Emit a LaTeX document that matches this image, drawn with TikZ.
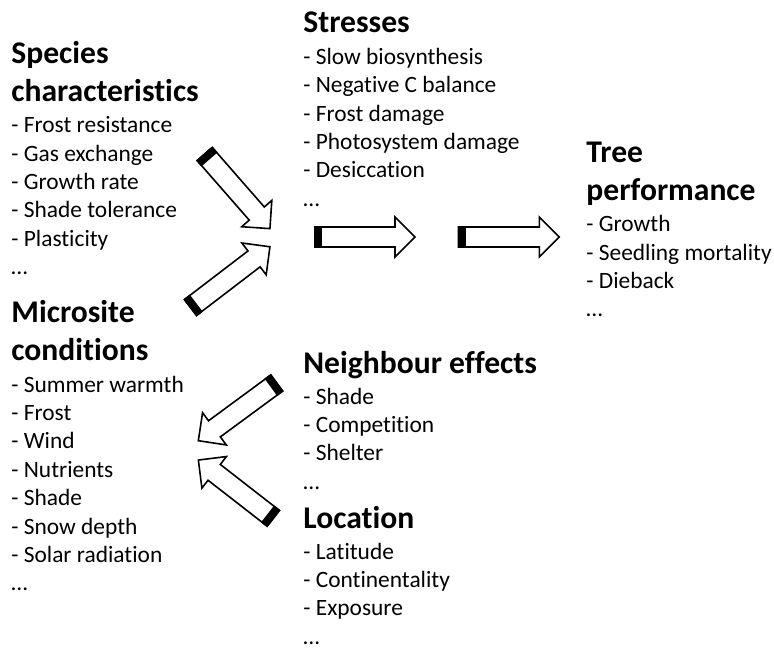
\documentclass[tikz,border=0pt]{standalone}
\usepackage{fontspec}
\setmainfont[Ligatures=NoCommon]{Carlito}
\usetikzlibrary{calc}

\newcommand{\headfont}{\fontsize{15.8}{18.85}\selectfont\bfseries}
\newcommand{\itemfont}{\fontsize{11.7}{14.2}\selectfont}
% lines of a block, baseline on the first line
\newcommand{\lst}[1]{\begin{tabular}[t]{@{}l@{}}#1\end{tabular}}

% block arrow from tail #1 to tip #2, black bar at the tail
\newcommand{\fatarrow}[2]{%
  \draw [fat] let \p1=($(#2)-(#1)$), \n1={atan2(\y1,\x1)}, \n2={veclen(\x1,\y1)} in
    [shift={(#1)},rotate=\n1] (0pt,-5pt) -- (\n2-10pt,-5pt) -- (\n2-10pt,-10pt) -- (\n2,0pt)
    -- (\n2-10pt,10pt) -- (\n2-10pt,5pt) -- (0pt,5pt) -- cycle;
  \fill let \p1=($(#2)-(#1)$), \n1={atan2(\y1,\x1)} in
    [shift={(#1)},rotate=\n1] (-0.4pt,-5.4pt) -- (3.6pt,-5.4pt) -- (3.6pt,5.4pt) -- (-0.4pt,5.4pt) -- cycle;}

\begin{document}
\begin{tikzpicture}[x=0.5pt,y=-0.5pt]
  \tikzstyle{head}=[font=\headfont,inner sep=0pt,anchor=base west]
  \tikzstyle{items}=[font=\itemfont,inner sep=0pt,anchor=base west]
  \tikzstyle{fat}=[draw=black,fill=white,line width=0.8pt,line join=miter]
  \useasboundingbox (0,0) rectangle (774,648);

  % species
  \node [head] (spec) at (11,63.3) {\lst{Species\\characteristics}};
  \node [items] (specl) at (11,132.7) {\lst{- Frost resistance\\- Gas exchange\\- Growth rate\\- Shade tolerance\\- Plasticity\\…}};
  % microsite
  \node [head] (micro) at (11,322.7) {\lst{Microsite\\conditions}};
  \node [items] (microl) at (11,392) {\lst{- Summer warmth\\- Frost\\- Wind\\- Nutrients\\- Shade\\- Snow depth\\- Solar radiation\\…}};
  % stresses
  \node [head] (stress) at (303,32.5) {Stresses};
  \node [items] (stressl) at (303,64.2) {\lst{- Slow biosynthesis\\- Negative C balance\\- Frost damage\\- Photosystem damage\\- Desiccation\\…}};
  % tree performance
  \node [head] (tree) at (586,162.3) {\lst{Tree\\performance}};
  \node [items] (treel) at (586,231.7) {\lst{- Growth\\- Seedling mortality\\- Dieback\\…}};
  % neighbours
  \node [head] (neigh) at (303,373.3) {Neighbour effects};
  \node [items] (neighl) at (303,404) {\lst{- Shade\\- Competition\\- Shelter\\…}};
  % location
  \node [head] (loc) at (303,528.3) {Location};
  \node [items] (locl) at (303,559) {\lst{- Latitude\\- Continentality\\- Exposure\\…}};

  % arrow ends
  \coordinate (a1s) at (204.7,154);   \coordinate (a1e) at (270,228.7);
  \coordinate (a2s) at (190.5,307.5); \coordinate (a2e) at (270,246.7);
  \coordinate (a3s) at (315,237);     \coordinate (a3e) at (415,237);
  \coordinate (a4s) at (458.3,237);   \coordinate (a4e) at (559.3,237);
  \coordinate (a5s) at (276.7,383);   \coordinate (a5e) at (198.3,440.7);
  \coordinate (a6s) at (273.3,518.3); \coordinate (a6e) at (198.3,460);

  \fatarrow{a1s}{a1e}
  \fatarrow{a2s}{a2e}
  \fatarrow{a3s}{a3e}
  \fatarrow{a4s}{a4e}
  \fatarrow{a5s}{a5e}
  \fatarrow{a6s}{a6e}
\end{tikzpicture}
\end{document}
